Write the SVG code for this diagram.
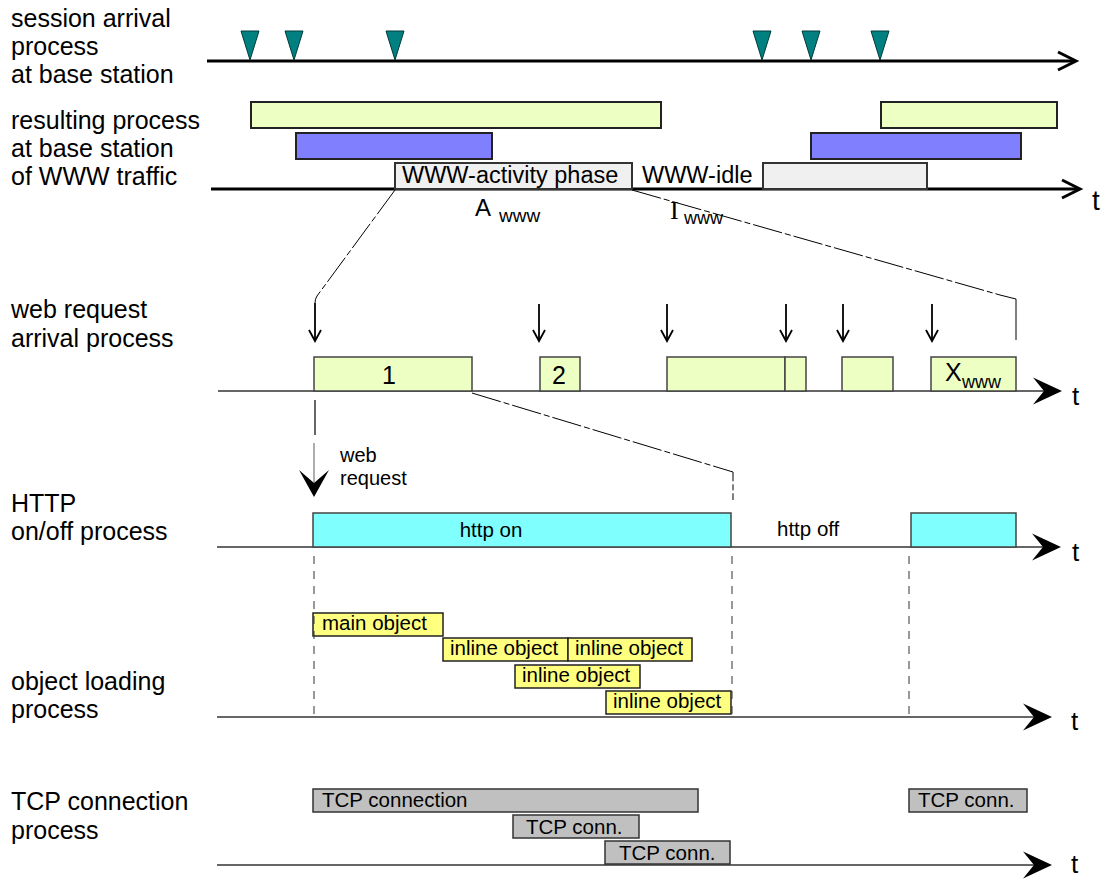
<svg xmlns="http://www.w3.org/2000/svg" width="1104" height="879" viewBox="0 0 1104 879">
<defs>
<style>
text{font-family:"Liberation Sans",Arial,Helvetica,sans-serif;fill:#000}
.lbl{font-size:25px}
.tri{fill:#008080;stroke:#003a3a;stroke-width:1}
.gTop{fill:#EEFFC4;stroke:#222;stroke-width:2}
.bTop{fill:#8080FF;stroke:#222;stroke-width:2}
.wTop{fill:#F0F0F0;stroke:#333;stroke-width:2}
.gReq{fill:#EEFFC4;stroke:#444;stroke-width:1.5}
.cyan{fill:#80FFFF;stroke:#444;stroke-width:1.5}
.yel{fill:#FFFF80;stroke:#222;stroke-width:1.5}
.tcp{fill:#C0C0C0;stroke:#333;stroke-width:1.5}
.axT{stroke:#000;stroke-width:3;fill:none}
.ax{stroke:#333;stroke-width:1.5;fill:none}
.dash{stroke:#000;stroke-width:1;fill:none;stroke-dasharray:30 3 6 3}
.vdash{stroke:#333;stroke-width:1;fill:none;stroke-dasharray:8 7}
.arr{stroke:#000;stroke-width:1.8;fill:none}
.t{font-size:26px}
.bt{font-size:20.5px}
.big{font-size:23.5px}
.sub{font-size:19px}
.capA{font-size:24px}
.capI{font-size:26px;font-family:"Liberation Serif","Times New Roman",serif}
</style>
<path id="ah" d="M0,0 L-29,-13.5 L-18,0 L-29,13.5 Z" fill="#000"/>
<path id="tri" d="M-9,0 L9,0 L0,29 Z"/>
</defs>
<rect width="1104" height="879" fill="#fff"/>

<!-- left labels -->
<g id="labels">
<text class="lbl" x="11" y="27">session arrival</text>
<text class="lbl" x="11" y="55">process</text>
<text class="lbl" x="11" y="83">at base station</text>
<text class="lbl" x="11" y="129">resulting process</text>
<text class="lbl" x="11" y="157">at base station</text>
<text class="lbl" x="11" y="185">of WWW traffic</text>
<text class="lbl" x="11" y="318">web request</text>
<text class="lbl" x="11" y="347">arrival process</text>
<text class="lbl" x="11" y="512">HTTP</text>
<text class="lbl" x="11" y="540">on/off process</text>
<text class="lbl" x="11" y="690">object loading</text>
<text class="lbl" x="11" y="718">process</text>
<text class="lbl" x="11" y="810">TCP connection</text>
<text class="lbl" x="11" y="839">process</text>
</g>

<!-- axes -->
<g id="axes">
<line class="axT" x1="207" y1="61" x2="1075" y2="61"/>
<polyline class="axT" points="1058,52 1076,61 1058,70"/>
<line class="axT" x1="211" y1="189" x2="1079" y2="189"/>
<polyline class="axT" points="1062,180 1080,189 1062,198"/>
<text x="1092" y="210" style="font-size:28px">t</text>
<line class="ax" x1="218" y1="391" x2="1050" y2="391"/>
<use href="#ah" x="1062" y="391"/>
<text class="t" x="1072" y="405">t</text>
<line class="ax" x1="217" y1="547" x2="1050" y2="547"/>
<use href="#ah" x="1061" y="547"/>
<text class="t" x="1072" y="561">t</text>
<line class="ax" x1="217" y1="717" x2="1040" y2="717"/>
<use href="#ah" x="1052" y="717"/>
<text class="t" x="1071" y="730">t</text>
<line class="ax" x1="217" y1="865" x2="1040" y2="865"/>
<use href="#ah" x="1052" y="865"/>
<text class="t" x="1071" y="873">t</text>
</g>

<!-- session arrivals -->
<g id="sessions" class="tri">
<use href="#tri" x="250" y="31"/>
<use href="#tri" x="294" y="31"/>
<use href="#tri" x="395" y="31"/>
<use href="#tri" x="762" y="31"/>
<use href="#tri" x="811" y="31"/>
<use href="#tri" x="880" y="31"/>
</g>

<!-- resulting process -->
<g id="session1"><rect class="gTop" x="251" y="102" width="410" height="26"/></g>
<g id="session2"><rect class="gTop" x="881" y="102" width="176" height="26"/></g>
<g id="session3"><rect class="bTop" x="296" y="133" width="196" height="26"/></g>
<g id="session4"><rect class="bTop" x="811" y="133" width="210" height="26"/></g>
<g id="activity1">
<rect class="wTop" x="395" y="163" width="237" height="26"/>
<text class="big" x="402" y="183">WWW-activity phase</text>
</g>
<g id="idle"><text class="big" x="642" y="183">WWW-idle</text></g>
<g id="activity2"><rect class="wTop" x="763" y="163" width="164" height="26"/></g>
<g id="Awww">
<text class="capA" x="475" y="216">A</text>
<text class="sub" x="499" y="222">www</text>
</g>
<g id="Iwww">
<text class="capI" x="670" y="219">I</text>
<text x="684" y="224" style="font-size:18px">www</text>
</g>

<!-- web requests -->
<g id="req1"><rect class="gReq" x="314" y="357" width="158" height="34"/><text x="389" y="384" style="font-size:25px" text-anchor="middle">1</text></g>
<g id="req2"><rect class="gReq" x="540" y="357" width="40" height="34"/><text x="559" y="384" style="font-size:25px" text-anchor="middle">2</text></g>
<g id="req3"><rect class="gReq" x="667" y="357" width="118" height="34"/></g>
<g id="req4"><rect class="gReq" x="785" y="357" width="21" height="34"/></g>
<g id="req5"><rect class="gReq" x="842" y="357" width="51" height="34"/></g>
<g id="req6"><rect class="gReq" x="931" y="357" width="85" height="34"/>
<text x="945" y="381" style="font-size:25px">X</text>
<text x="962" y="388" style="font-size:18px">www</text>
</g>

<!-- http -->
<g id="httpOn"><rect class="cyan" x="313" y="513" width="418" height="34"/><text x="491" y="537" class="bt" text-anchor="middle">http on</text></g>
<g id="httpOff"><text x="777" y="536" class="bt">http off</text></g>
<g id="httpOn2"><rect class="cyan" x="911" y="513" width="105" height="34"/></g>

<!-- objects -->
<g id="obj1"><rect class="yel" x="313" y="613" width="130" height="23"/><text x="322" y="630" class="bt">main object</text></g>
<g id="obj2"><rect class="yel" x="443" y="638" width="125" height="23"/><text x="450" y="655" class="bt">inline object</text></g>
<g id="obj3"><rect class="yel" x="568" y="638" width="124" height="23"/><text x="575" y="655" class="bt">inline object</text></g>
<g id="obj4"><rect class="yel" x="515" y="665" width="125" height="23"/><text x="522" y="682" class="bt">inline object</text></g>
<g id="obj5"><rect class="yel" x="606" y="691" width="125" height="23"/><text x="613" y="708" class="bt">inline object</text></g>

<!-- tcp -->
<g id="tcp1"><rect class="tcp" x="313" y="789" width="385" height="23"/><text x="322" y="807" class="bt">TCP connection</text></g>
<g id="tcp2"><rect class="tcp" x="513" y="815" width="126" height="23"/><text x="526" y="834" class="bt">TCP conn.</text></g>
<g id="tcp3"><rect class="tcp" x="605" y="841" width="125" height="23"/><text x="619" y="860" class="bt">TCP conn.</text></g>
<g id="tcp4"><rect class="tcp" x="909" y="789" width="118" height="23"/><text x="918" y="807" class="bt">TCP conn.</text></g>

<!-- connectors -->
<g id="connectors">
<path class="dash" d="M395,190 L317,296 Q315,299 315,303"/>
<path class="dash" d="M632,190 L1000,295 L1016,299"/>
<line x1="1016" y1="299" x2="1016" y2="340" stroke="#000" stroke-width="1"/>
<path class="dash" d="M472,393 L733,472 L733,500"/>
<g class="arr">
<line x1="315" y1="303" x2="315" y2="341"/><polyline points="309,330 315,341 321,330"/>
<line x1="539" y1="304" x2="539" y2="341"/><polyline points="533,330 539,341 545,330"/>
<line x1="667" y1="304" x2="667" y2="341"/><polyline points="661,330 667,341 673,330"/>
<line x1="786" y1="304" x2="786" y2="341"/><polyline points="780,330 786,341 792,330"/>
<line x1="843" y1="304" x2="843" y2="341"/><polyline points="837,330 843,341 849,330"/>
<line x1="932" y1="304" x2="932" y2="341"/><polyline points="926,330 932,341 938,330"/>
</g>
<line x1="315" y1="400" x2="315" y2="435" stroke="#000" stroke-width="1.2"/>
<line x1="314" y1="443" x2="314" y2="485" stroke="#777" stroke-width="1.2"/>
<polygon points="314,497 299,470 314,483 329,470" fill="#000"/>
<text x="340" y="462" style="font-size:20px">web</text>
<text x="340" y="485" style="font-size:20px">request</text>
<line class="vdash" x1="314" y1="556" x2="314" y2="716"/>
<line class="vdash" x1="732" y1="556" x2="732" y2="716"/>
<line class="vdash" x1="909" y1="556" x2="909" y2="716"/>
</g>
</svg>
